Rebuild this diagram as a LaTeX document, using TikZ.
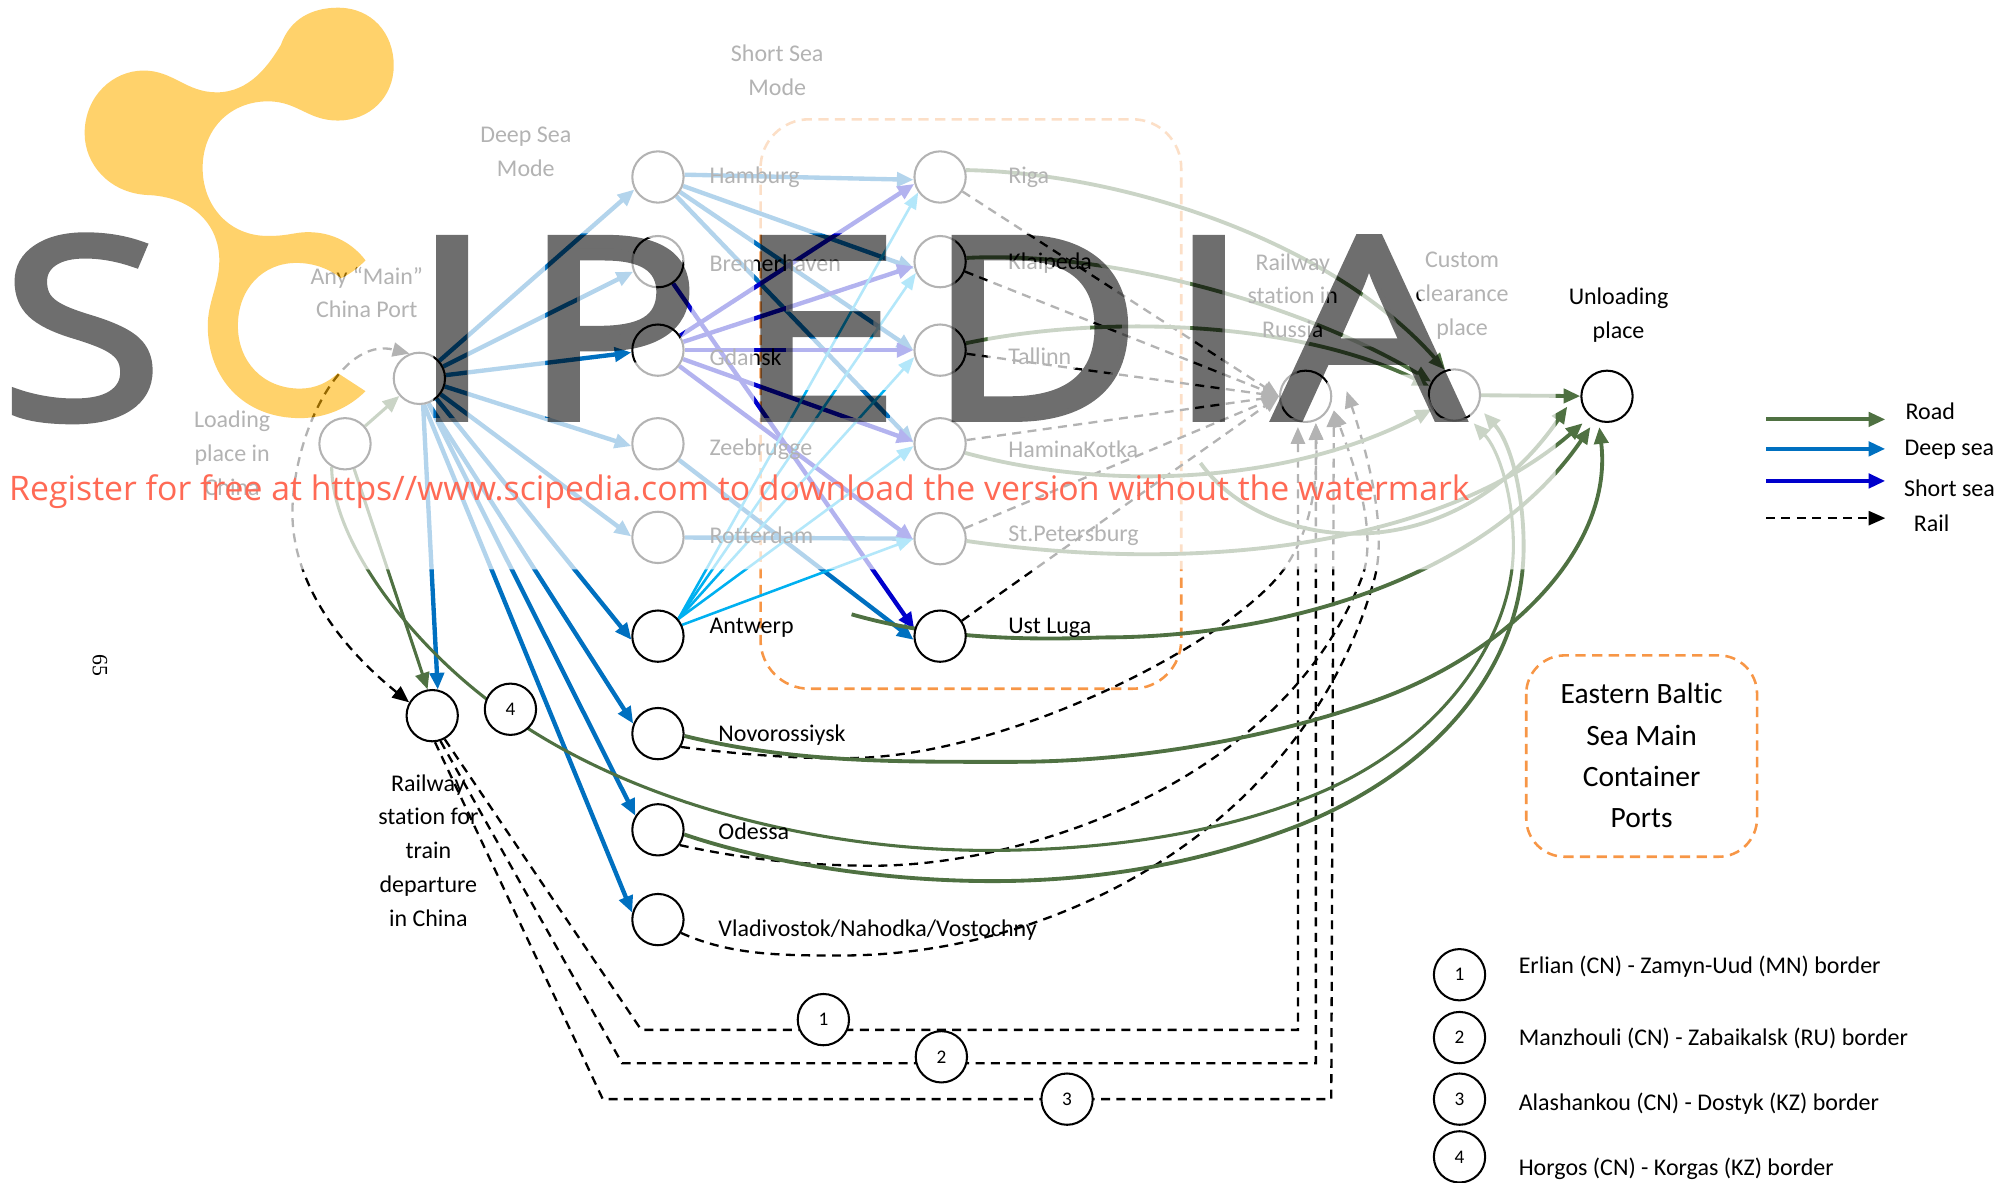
\documentclass[tikz,border=0pt]{standalone}
\usepackage{fontspec}
\setmainfont{Carlito}[Ligatures=NoCommon]
\newfontfamily\wmfont{Open Sans}
\newfontfamily\wmbig{Open Sans}[FakeStretch=1.18,FakeBold=3]
\usetikzlibrary{arrows.meta,backgrounds}
\definecolor{roadc}{HTML}{4F7142}
\definecolor{deepc}{HTML}{0070C0}
\definecolor{shortc}{HTML}{0000CC}
\definecolor{antc}{HTML}{00B0F0}
\definecolor{orangec}{HTML}{F79646}
\definecolor{logoc}{HTML}{FFB100}
\definecolor{wmred}{HTML}{FF6A55}
\pgfdeclarelayer{edgelayer}
\pgfdeclarelayer{wmlayer}
\pgfsetlayers{edgelayer,main,wmlayer}
\newcommand\logooutline{(263.5,6) .. controls (290,6) and (307,26) .. (307,51) .. controls (307,76) and (288,94) .. (263.5,94) .. controls (240,94) and (232,79) .. (209,79) .. controls (180,79) and (158,100) .. (158,131) .. controls (158,160) and (178,184) .. (209,184) .. controls (225,184) and (230,181) .. (240,181) .. controls (260,181) and (275,190) .. (285,203) .. controls (278,210) and (272,214) .. (266,217) .. controls (256,209) and (244,205) .. (231,205) .. controls (205,205) and (185.5,225) .. (185.5,254) .. controls (185.5,282) and (205,303) .. (234,303) .. controls (246,303) and (256,298) .. (263.5,291) -- (285,305) .. controls (272,318) and (254,326) .. (234,326) .. controls (190,326) and (162,295) .. (162,254) .. controls (162,235) and (171,222) .. (171,203) .. controls (171,175) and (150,153) .. (114,152) .. controls (85,150) and (66,128) .. (66,104) .. controls (66,75) and (88,55) .. (112,55) .. controls (135,55) and (145,72) .. (169,72) .. controls (195,72) and (210,50) .. (219,35) .. controls (226,15) and (243,6) .. (263.5,6) -- cycle}
\tikzset{
  x=1pt,y=-1pt,
  hub/.style={circle,draw=black,fill=white,line width=1.6pt,minimum size=40pt,inner sep=0pt},
  numc/.style={hub,font=\fontsize{15}{18}\selectfont},
  lab/.style={inner sep=0pt,font=\fontsize{18.7}{26.3}\selectfont},
  portlab/.style={lab,anchor=west,yshift=-1.5pt},
  clab/.style={lab,align=center},
  tipbig/.style={-{Triangle[length=13pt,width=11pt]}},
  road/.style={draw=roadc,line width=3pt,tipbig},
  roadthin/.style={draw=roadc,line width=2.4pt,tipbig},
  deep/.style={draw=deepc,line width=3.4pt,tipbig},
  shortsea/.style={draw=shortc,line width=3.4pt,tipbig},
  ant/.style={draw=antc,line width=2pt,-{Triangle[length=13pt,width=10pt]}},
  rail/.style={draw=black,line width=1.8pt,dash pattern=on 7pt off 5pt,tipbig},
  regionbox/.style={draw=orangec,line width=2pt,dash pattern=on 8pt off 5pt,rounded corners=38pt},
  wmletter/.style={anchor=base west,inner sep=0pt,text=black,font=\wmbig\fontsize{196}{196}\selectfont},
}
\begin{document}
\begin{tikzpicture}
\useasboundingbox (0,0) rectangle (1568,922);
% nodes
\node[hub] (load) at (269,346) {};
\node[hub] (port) at (327,295) {};
\node[hub] (rs) at (337,558) {};
\node[hub] (ham) at (513,138) {};
\node[hub] (bre) at (513,204) {};
\node[hub] (gda) at (513,273) {};
\node[hub] (zee) at (513,346) {};
\node[hub] (rot) at (513,419) {};
\node[hub] (ant) at (513,496) {};
\node[hub] (nov) at (513,572) {};
\node[hub] (ode) at (513,647) {};
\node[hub] (vla) at (513,717) {};
\node[hub] (rig) at (733,138) {};
\node[hub] (kla) at (733,204) {};
\node[hub] (tal) at (733,273) {};
\node[hub] (hmk) at (733,346) {};
\node[hub] (stp) at (733,420) {};
\node[hub] (ust) at (733,496) {};
\node[hub] (rru) at (1018,309) {};
\node[hub] (cus) at (1134,308) {};
\node[hub] (unl) at (1253,309) {};
\node[numc] (n4) at (398,553) {4};
\node[numc] (n1) at (642,795) {1};
\node[numc] (n2) at (734,824) {2};
\node[numc] (n3) at (832,857) {3};
\node[numc] (k1) at (1138,760) {1};
\node[numc] (k2) at (1138,809) {2};
\node[numc] (k3) at (1138,857) {3};
\node[numc] (k4) at (1138,902) {4};
% labels
\node[clab] (tss) at (606,55) {Short Sea\\Mode};
\node[clab] (tds) at (410,118.5) {Deep Sea\\Mode};
\node[clab] (tan) at (286,228) {Any “Main”\\China Port};
\node[clab] (tlo) at (181,353.5) {Loading\\place in\\China};
\node[clab] (trr) at (1008,230.5) {Railway\\station in\\Russia};
\node[clab] (tcc) at (1140,230.5) {Custom\\clearance\\place};
\node[clab] (tun) at (1262,245.5) {Unloading\\place};
\node[clab] (trs) at (334,663) {Railway\\station for\\train\\departure\\in China};
\node[portlab] (l1) at (553,137) {Hamburg};
\node[portlab] (l2) at (553,204) {Bremerhaven};
\node[portlab] (l3) at (553,277) {Gdansk};
\node[portlab] (l4) at (553,349) {Zeebrugge};
\node[portlab] (l5) at (553,416) {Rotterdam};
\node[portlab] (l6) at (553,488) {Antwerp};
\node[portlab] (l7) at (560,572) {Novorossiysk};
\node[portlab] (l8) at (560,647) {Odessa};
\node[portlab] (l9) at (560,724) {Vladivostok/Nahodka/Vostochny};
\node[portlab] (r1) at (786,137) {Riga};
\node[portlab] (r2) at (786,204) {Klaipeda};
\node[portlab] (r3) at (786,276) {Tallinn};
\node[portlab] (r4) at (786,349) {HaminaKotka};
\node[portlab] (r5) at (786,416) {St.Petersburg};
\node[portlab] (r6) at (786,488) {Ust Luga};
\node[clab,font=\fontsize{23}{32}\selectfont] (tbal) at (1280,589) {Eastern Baltic\\Sea Main\\Container\\Ports};
\node[portlab] (b1) at (1184,752) {Erlian (CN) - Zamyn-Uud (MN) border};
\node[portlab] (b2) at (1184,808) {Manzhouli (CN) - Zabaikalsk (RU) border};
\node[portlab] (b3) at (1184,859) {Alashankou (CN) - Dostyk (KZ) border};
\node[portlab] (b4) at (1184,910) {Horgos (CN) - Korgas (KZ) border};
\node[lab] (lg1) at (1505,321) {Road};
\node[lab] (lg2) at (1520,351) {Deep sea};
\node[lab] (lg3) at (1520,381) {Short sea};
\node[lab] (lg4) at (1506,408) {Rail};
\node[rotate=-90,inner sep=0pt,font=\fontsize{17}{20}\selectfont] (pg) at (78,519) {\fontspec{Liberation Serif}65};
% free ends
\coordinate (a1) at (1377,327); \coordinate (a2) at (1470,327);
\coordinate (a3) at (1377,350); \coordinate (a4) at (1470,350);
\coordinate (a5) at (1377,375); \coordinate (a6) at (1470,375);
\coordinate (a7) at (1377,404); \coordinate (a8) at (1470,404);
\coordinate (u1) at (1222,317); \coordinate (u2) at (1234,330);
\coordinate (u3) at (1240,333); \coordinate (u4) at (1247,333);
\coordinate (c1) at (1157,322); \coordinate (c2) at (1149,330);
\coordinate (ds) at (936,361); \coordinate (us) at (664,479);
\coordinate (t1) at (1012,333); \coordinate (t2) at (1026,330); \coordinate (t3) at (1040,320);
\coordinate (t4) at (1050,305);
\coordinate (p1) at (500,803); \coordinate (p2) at (1012,803);
\coordinate (p3) at (485,829); \coordinate (p4) at (1026,829);
\coordinate (p5) at (470,857); \coordinate (p6) at (1038,857);
\begin{pgfonlayer}{edgelayer}
\draw[regionbox] (593,93) rectangle (921,537);
\draw[regionbox,rounded corners=30pt] (1190,511) rectangle (1370,668);
% legend
\draw[road] (a1) -- (a2);
\draw[deep] (a3) -- (a4);
\draw[shortsea] (a5) -- (a6);
\draw[rail] (a7) -- (a8);
% first mile
\draw[roadthin] (load) -- (port);
\draw[roadthin] (load.-70) -- (rs.100);
\draw[deep] (port.-82) -- (rs.78);
% deep sea
\draw[deep] (port) -- (ham.208);
\draw[deep] (port) -- (bre.202);
\draw[deep] (port) -- (gda.185);
\draw[deep] (port) -- (zee.185);
\draw[deep] (port) -- (rot.178);
\draw[deep] (port.-50) -- (ant.188);
\draw[deep] (port.-70) -- (nov.158);
\draw[deep] (port.-70) -- (ode.148);
\draw[deep] (port.-80) -- (vla.165);
\draw[deep] (ham.5) -- (rig.186);
\draw[deep] (ham) -- (kla.195);
\draw[deep] (ham) -- (tal.180);
\draw[deep] (ham) -- (hmk.178);
\draw[deep] (rot) -- (stp.180);
\draw[deep] (zee) -- (ust.188);
% short sea
\draw[shortsea] (gda) -- (rig.195);
\draw[shortsea] (gda) -- (kla.190);
\draw[shortsea] (gda) -- (tal.180);
\draw[shortsea] (gda) -- (hmk.175);
\draw[shortsea] (gda) -- (stp.183);
\draw[shortsea] (bre) -- (ust.165);
\draw[ant] (ant.40) -- (rig.215);
\draw[ant] (ant.40) -- (kla.205);
\draw[ant] (ant.40) -- (tal.195);
\draw[ant] (ant.40) -- (hmk.185);
\draw[ant] (ant.25) -- (stp.180);
% rail to Russia
\foreach \t in {rig,kla,tal,hmk,stp,ust} \draw[rail] (\t) -- (rru.180);
\draw[rail,{Triangle[length=13pt,width=11pt]}-{Triangle[length=13pt,width=11pt]}] (rs.150) .. controls (260,500) and (228,450) .. (228,400) .. controls (228,340) and (265,262) .. (port.112);
\draw[rail] (rs.-62) -- (p1) -- (p2) -- (t1);
\draw[rail] (rs.-72) -- (p3) -- (p4) -- (t2);
\draw[rail] (rs.-84) -- (p5) -- (p6) -- (t3);
\draw[rail] (nov.-30) .. controls (590,590) and (640,592) .. (667,591) .. controls (790,588) and (960,500) .. (1001,444) .. controls (1025,410) and (1027,370) .. (t2);
\draw[rail] (ode.-35) .. controls (580,670) and (630,675) .. (681,675) .. controls (800,675) and (1000,610) .. (1062,450) .. controls (1075,415) and (1055,360) .. (t3);
\draw[rail] (vla.-30) .. controls (570,745) and (610,745) .. (656,745) .. controls (830,745) and (1020,640) .. (1072,450) .. controls (1082,410) and (1065,350) .. (t4);
% road to customs / unloading
\draw[road] (rig.15) .. controls (880,135) and (1040,190) .. (cus.110);
\draw[road] (kla.8) .. controls (870,195) and (1020,240) .. (cus.150);
\draw[road] (tal.15) .. controls (860,245) and (1010,250) .. (cus.160);
\draw[road] (hmk.-20) .. controls (870,385) and (1010,375) .. (cus.212);
\draw[road] (cus) -- (unl);
\draw[road] (stp.-5) .. controls (950,450) and (1130,420) .. (u2);
\draw[road] (ds) .. controls (985,430) and (1130,450) .. (u1);
\draw[road] (us) .. controls (720,495) and (780,500) .. (860,497) .. controls (1000,497) and (1160,450) .. (u3);
\draw[road] (nov.-5) .. controls (620,595) and (700,594) .. (790,594) .. controls (900,594) and (1010,570) .. (1081,543) .. controls (1180,505) and (1258,425) .. (u4);
\draw[roadthin] (load.-120) .. controls (259,420) and (315,495) .. (378,544) .. controls (480,625) and (640,665) .. (781,663) .. controls (880,662) and (960,645) .. (1014,624) .. controls (1120,585) and (1180,500) .. (1180,426) .. controls (1180,385) and (1168,350) .. (c2);
\draw[road] (ode.-10) .. controls (590,670) and (680,687) .. (774,687) .. controls (870,687) and (950,668) .. (1014,643) .. controls (1120,600) and (1188,520) .. (1188,426) .. controls (1188,385) and (1178,345) .. (c1);
\end{pgfonlayer}
\begin{pgfonlayer}{wmlayer}
% pale veil with letter-shaped openings
\fill[white,opacity=.7,even odd rule] (0,0) rectangle (1213,444)
  (338,182) rectangle (364,326)
  (425,182) -- (480,182) .. controls (520,182) and (540,200) .. (540,232) .. controls (540,265) and (518,284) .. (478,284) -- (450,284) -- (450,326) -- (425,326) -- cycle
  (450,194) -- (450,261) -- (475,261) .. controls (500,261) and (512,250) .. (512,230) .. controls (512,208) and (500,194) .. (475,194) -- cycle
  (588,182) -- (690,182) -- (690,203) -- (613,203) -- (613,243) -- (681,243) -- (681,264) -- (613,264) -- (613,304) -- (694,304) -- (694,326) -- (588,326) -- cycle
  (745,182) -- (790,182) .. controls (845,182) and (875,212) .. (875,253) .. controls (875,298) and (845,326) .. (790,326) -- (745,326) -- cycle
  (770,203) -- (770,304) -- (790,304) .. controls (830,304) and (850,285) .. (850,253) .. controls (850,222) and (830,203) .. (790,203) -- cycle
  (928,182) rectangle (953,326)
  (1057,182) -- (1086,182) -- (1147,326) -- (1121,326) -- (1106,292) -- (1038,292) -- (1021,326) -- (996,326) -- cycle
  (1071,212) -- (1043,270) -- (1097,270) -- cycle
  \logooutline;
\fill[logoc,fill opacity=.58] \logooutline;
\begin{scope}[transparency group,opacity=.57]
\node[wmletter] (w1) at (0,326) {S};
\node[wmletter] (w2) at (320,326) {I};
\node[wmletter] (w3) at (407,326) {P};
\node[wmletter] (w4) at (573,326) {E};
\node[wmletter] (w5) at (722,326) {D};
\node[wmletter] (w6) at (910,326) {I};
\node[wmletter] (w7) at (994,326) {A};
\end{scope}
\node[anchor=west,inner sep=0pt,text=wmred,font=\wmfont\fontsize{26.35}{30}\selectfont] (wt) at (7,383) {Register for free at https//www.scipedia.com to download the version without the watermark};
\end{pgfonlayer}
\end{tikzpicture}
\end{document}
